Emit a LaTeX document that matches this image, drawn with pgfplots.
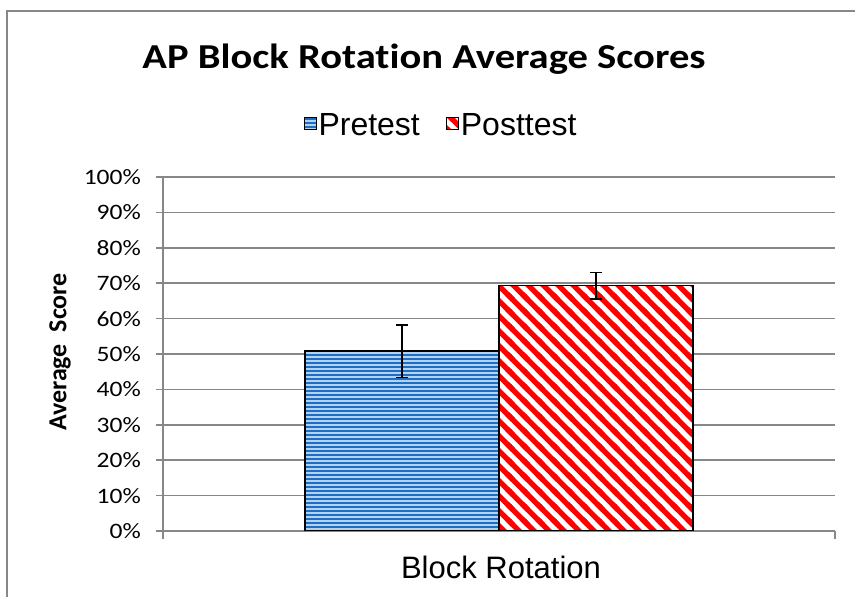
\documentclass[border=0pt]{standalone}
\usepackage{pgfplots}
\pgfplotsset{compat=1.18}
\usepackage{fontspec}
\setmainfont{Liberation Sans}
\newfontfamily\carlito[Ligatures=NoCommon]{Carlito}
\usetikzlibrary{patterns}
\usepackage{graphicx}

\definecolor{gridgray}{HTML}{878787}
\definecolor{stripeblue}{HTML}{1C6EC4}
\definecolor{paleblue}{HTML}{B4D2EE}

% horizontal stripes, 4pt period (cell overlaps its neighbours to avoid seams)
\pgfdeclarepatternformonly{hstripes}{\pgfpoint{-1pt}{-1pt}}{\pgfpoint{11pt}{5pt}}{\pgfpoint{10pt}{4pt}}{%
  \pgfpathrectangle{\pgfpoint{-1pt}{1.1pt}}{\pgfpoint{12pt}{1.8pt}}\pgfusepath{fill}}
% diagonal stripes running top-left to bottom-right
\pgfdeclarepatternformonly{dstripes}{\pgfpoint{-2pt}{-2pt}}{\pgfpoint{17pt}{17pt}}{\pgfpoint{15pt}{15pt}}{%
  \pgfsetlinewidth{5.3pt}
  \pgfpathmoveto{\pgfpoint{-3pt}{18pt}}\pgfpathlineto{\pgfpoint{18pt}{-3pt}}
  \pgfpathmoveto{\pgfpoint{-3pt}{3pt}}\pgfpathlineto{\pgfpoint{3pt}{-3pt}}
  \pgfpathmoveto{\pgfpoint{12pt}{18pt}}\pgfpathlineto{\pgfpoint{18pt}{12pt}}
  \pgfusepath{stroke}}

\begin{document}
\begin{tikzpicture}
\useasboundingbox (0,0) rectangle (855pt,597pt);
\fill[white] (0,0) rectangle (855pt,597pt);
\draw[gridgray, line width=2pt] (7pt,0) -- (7pt,586pt) -- (855pt,586pt);

\node[anchor=base, font=\carlito\bfseries\fontsize{35}{40}\selectfont] at (424pt,528pt)
  {\scalebox{1.16}[1]{AP Block Rotation Average Scores}};

\begin{axis}[
    at={(163pt,66pt)}, anchor=south west,
    scale only axis, width=672pt, height=354pt,
    xmin=-1, xmax=1, ymin=0, ymax=100,
    axis x line*=bottom, axis y line*=left,
    axis line style={gridgray, line width=1.5pt},
    xtick=\empty,
    extra x ticks={-1,1}, extra x tick labels={},
    extra x tick style={major tick length=8pt, tick style={gridgray, line width=1.5pt}},
    ytick={0,10,...,100},
    yticklabel={\scalebox{1.16}[1]{\pgfmathparse{int(\tick)}\pgfmathresult\%}},
    yticklabel style={font=\carlito\fontsize{22}{24}\selectfont, inner sep=0pt, anchor=east, xshift=-15pt},
    tick align=outside, major tick length=7pt,
    tick style={gridgray, line width=1.5pt},
    ymajorgrids, grid style={gridgray, line width=1.5pt},
    ybar, bar width=194pt,
    legend columns=2,
    legend style={at={(0.4137,1.147)}, anchor=center, draw=none, fill=none,
      font=\fontsize{32}{35}\selectfont,
      /tikz/every even column/.append style={column sep=24pt}},
    legend image code/.code={\draw[#1, line width=1pt] (0pt,-5pt) rectangle (12pt,7pt);},
    error bars/y dir=both, error bars/y explicit,
    error bars/error bar style={black, line width=1.4pt},
    error bars/error mark options={rotate=90, black, mark size=6pt, line width=1.4pt},
]
\addplot[bar shift=-97pt, draw=black, line width=1.5pt, fill=paleblue,
  postaction={pattern=hstripes, pattern color=stripeblue}]
  coordinates {(0,50.8) +- (0,7.4)};
\addlegendentry{Pretest}
\addplot[bar shift=97pt, draw=black, line width=1.5pt, fill=white,
  postaction={pattern=dstripes, pattern color=red}]
  coordinates {(0,69.3) +- (0,3.8)};
\addlegendentry{Posttest}
\end{axis}

\node[rotate=90, anchor=center, font=\carlito\bfseries\fontsize{26}{28}\selectfont] at (60pt,245pt) {Average\ \ Score};
\node[anchor=base, font=\fontsize{31}{34}\selectfont] at (501pt,18pt) {Block Rotation};
\end{tikzpicture}
\end{document}
